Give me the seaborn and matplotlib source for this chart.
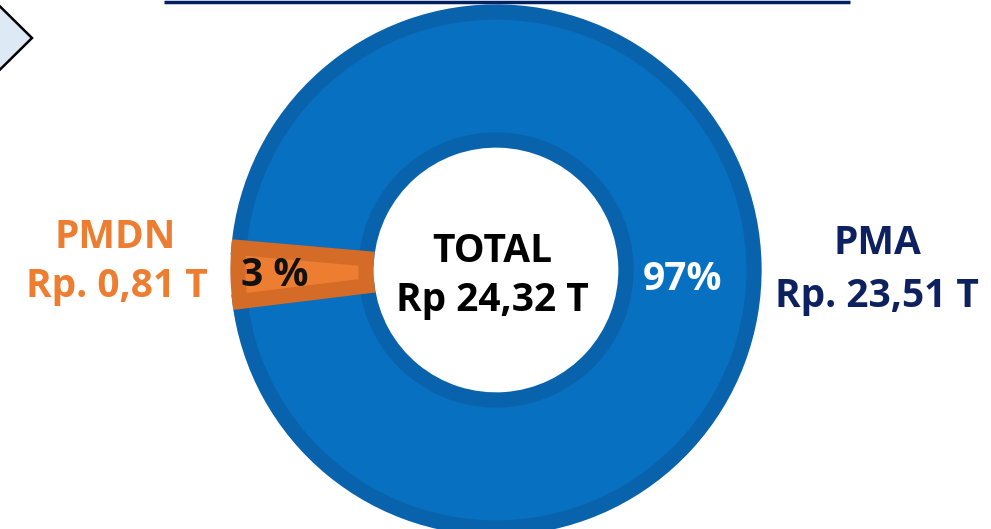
import numpy as np
import seaborn as sns
import matplotlib.pyplot as plt
from matplotlib.patches import Polygon

# data
labels = ['PMA', 'PMDN']
values = [23.51, 0.81]          # triliun rupiah
value_text = ['Rp. 23,51 T', 'Rp. 0,81 T']
pct_text = ['97%', '3 %']
total_text = 'Rp 24,32 T'

face_colors = ['#0870C0', '#ED7D31']
rim_colors = ['#0862AC', '#D46C28']
label_colors = ['#0D2161', '#ED7D31']
pct_colors = ['white', '#111111']

sns.set_style('white')
plt.rcParams['font.family'] = ['Open Sans', 'DejaVu Sans']

W, H = 991, 529
fig = plt.figure(figsize=(W / 100, H / 100), dpi=100)
ax = fig.add_axes([0, 0, 1, 1])

# donut (pixel coords, y flipped)
cx, cy = 496, H - 270
wedges, _ = ax.pie(
    values,
    colors=face_colors,
    radius=258,
    center=(cx, cy),
    startangle=187,
    counterclock=True,
    wedgeprops=dict(width=128, linewidth=11),
)
# darker rim drawn only inside each wedge
for w, c in zip(wedges, rim_colors):
    w.set_edgecolor(c)
    w.set_clip_path(w)

ax.set_xlim(0, W)
ax.set_ylim(0, H)
ax.set_aspect('equal')
ax.axis('off')

# header line and chevron decoration
ax.plot([164, 850], [H - 1.5, H - 1.5], color='#002060', lw=2.5, solid_capstyle='butt')
ax.add_patch(Polygon([(-40, H + 33), (32, H - 38), (-40, H - 109)], closed=True,
                     facecolor='#DDE9F5', edgecolor='black', lw=1.8))

fs = 28
# side labels
ax.text(877, H - 244, labels[0], color=label_colors[0], fontsize=fs, fontweight='bold',
        ha='center', va='center')
ax.text(877, H - 296, value_text[0], color=label_colors[0], fontsize=fs, fontweight='bold',
        ha='center', va='center')
ax.text(115, H - 237, labels[1], color=label_colors[1], fontsize=fs, fontweight='bold',
        ha='center', va='center')
ax.text(117, H - 287, value_text[1], color=label_colors[1], fontsize=fs, fontweight='bold',
        ha='center', va='center')

# percentages on the ring
ax.text(683, H - 280, pct_text[0], color=pct_colors[0], fontsize=fs, fontweight='bold',
        ha='center', va='center')
ax.text(275, H - 276, pct_text[1], color=pct_colors[1], fontsize=fs, fontweight='bold',
        ha='center', va='center')

# centre total
ax.text(492, H - 251, 'TOTAL', color='black', fontsize=fs, fontweight='bold',
        ha='center', va='center')
ax.text(492, H - 301, total_text, color='black', fontsize=fs, fontweight='bold',
        ha='center', va='center')

fig.savefig('out.png', dpi=100)
